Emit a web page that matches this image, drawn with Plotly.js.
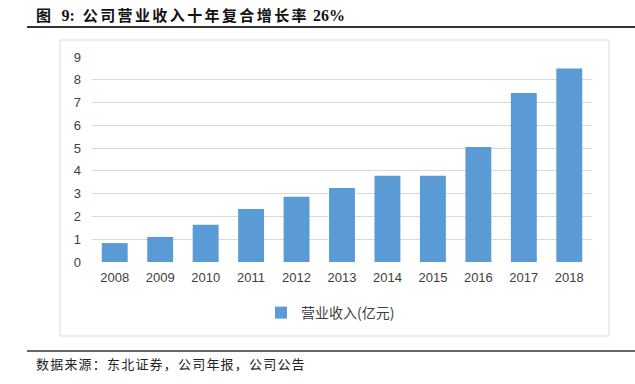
<!DOCTYPE html>
<html><head><meta charset="utf-8">
<script src="https://cdn.plot.ly/plotly-3.0.1.min.js"></script>
<style>html,body{margin:0;padding:0;background:#fff}#c{width:635px;height:384px}</style>
</head><body><div id="c"></div>
<script>
const years = ['2008','2009','2010','2011','2012','2013','2014','2015','2016','2017','2018'];
const revenue = [0.83,1.10,1.64,2.33,2.87,3.25,3.79,3.79,5.05,7.42,8.50];
const seriesName = '营业收入(亿元)';
const titleLabel = '图';
const titleNum = '9:';
const titleBody = '公司营业收入十年复合增长率';
const titleRate = '26%';
const sourceText = '数据来源：东北证券，公司年报，公司公告';
const yTicks = [0,1,2,3,4,5,6,7,8,9];

const L=92, R=592, T=57, B=262;
const px = x => (x-L)/(R-L);
const py = y => (B-y)/(B-T);

const trace = {type:'bar', x:years, y:revenue, name:seriesName,
  marker:{color:'#5B9BD5', line:{width:0}}, showlegend:true};

const cjk = "font-family:'Noto Sans CJK SC';font-size:15px;letter-spacing:2.4px";
const lat = "font-family:'Liberation Serif';font-size:16px";
const titleHtml = '<b><span style="'+cjk+'">'+titleLabel+'</span><span style="'+lat+'">&nbsp;&nbsp;'+titleNum+'&nbsp;&nbsp;</span><span style="'+cjk+'">'+titleBody+'</span><span style="'+lat+'">&nbsp;'+titleRate+'</span></b>';

const layout = {
  width:635, height:384,
  margin:{l:L, r:635-R, t:T, b:384-B, pad:0},
  paper_bgcolor:'#fff', plot_bgcolor:'#fff',
  bargap:0.43,
  font:{family:'Liberation Sans, Arial, sans-serif', color:'#595959', size:13},
  xaxis:{type:'category', showgrid:false, zeroline:false, showline:false, ticks:'', tickfont:{size:13,color:'#404040'}, ticklabelstandoff:6},
  yaxis:{range:[0,9], tickvals:yTicks, showgrid:true, gridcolor:'#d9d9d9', gridwidth:1, zeroline:false, showline:false, ticks:'', tickfont:{size:13,color:'#404040'}, ticklabelstandoff:10},
  showlegend:true,
  legend:{orientation:'h', x:px(261), xanchor:'left', y:py(313), yanchor:'middle', font:{family:'Noto Sans CJK SC, sans-serif', size:14, color:'#404040'}, itemwidth:30},
  shapes:[
    {type:'rect', xref:'paper', yref:'paper', x0:px(60), x1:px(609), y0:py(336), y1:py(40), line:{color:'#d9d9d9', width:1}, fillcolor:'rgba(0,0,0,0)', layer:'below'},
    {type:'line', xref:'paper', yref:'paper', x0:px(27), x1:px(635), y0:py(27), y1:py(27), line:{color:'#333', width:2}},
    {type:'line', xref:'paper', yref:'paper', x0:px(27), x1:px(635), y0:py(351), y1:py(351), line:{color:'#333', width:1.5}}
  ],
  annotations:[
    {xref:'paper', yref:'paper', x:px(34), y:py(14), xanchor:'left', yanchor:'middle', showarrow:false, text:titleHtml, font:{family:'Noto Sans CJK SC, serif', size:15, color:'#111'}},
    {xref:'paper', yref:'paper', x:px(34), y:py(363), xanchor:'left', yanchor:'middle', showarrow:false, text:'<span style="letter-spacing:1.2px">'+sourceText+'</span>', font:{family:'Noto Sans CJK SC, sans-serif', size:13, color:'#222'}}
  ]
};
Plotly.newPlot('c',[trace],layout,{staticPlot:true});
</script></body></html>
